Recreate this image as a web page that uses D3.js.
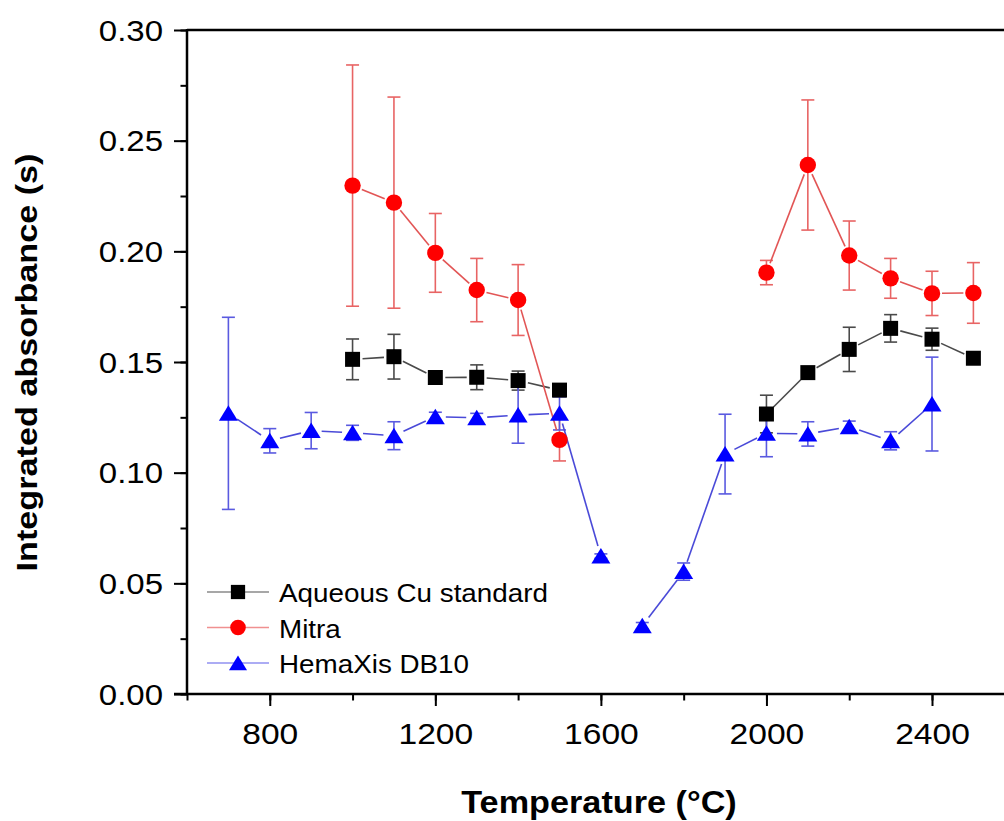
<!DOCTYPE html>
<html>
<head>
<meta charset="utf-8">
<script src="https://cdn.jsdelivr.net/npm/d3@7"></script>
<style>
  html, body { margin: 0; padding: 0; background: #fff; }
  svg { display: block; font-family: "Liberation Sans", Arial, sans-serif; }
</style>
</head>
<body>
<svg id="chart" width="1004" height="821"></svg>
<script>
// ---- data ----
const cuTemps = [1000, 1100, 1200, 1300, 1400, 1500, 2000, 2100, 2200, 2300, 2400, 2500];
const cuValues = [0.1512, 0.1524, 0.1430, 0.1431, 0.1416, 0.1373, 0.1265, 0.1452, 0.1557, 0.1652, 0.1603, 0.1517];
const cuErrors = [0.0092, 0.0101, 0.0030, 0.0056, 0.0043, 0, 0.0085, 0, 0.0100, 0.0062, 0.0050, 0];

const mitraTemps = [1000, 1100, 1200, 1300, 1400, 1500, 2000, 2100, 2200, 2300, 2400, 2500];
const mitraValues = [0.2297, 0.2220, 0.1993, 0.1825, 0.1780, 0.1148, 0.1904, 0.2390, 0.1981, 0.1878, 0.1810, 0.1812];
const mitraErrors = [0.0545, 0.0477, 0.0178, 0.0143, 0.0160, 0.0095, 0.0055, 0.0294, 0.0156, 0.0090, 0.0100, 0.0137];

const hemaTemps = [700, 800, 900, 1000, 1100, 1200, 1300, 1400, 1500, 1600, 1700, 1800, 1900, 2000, 2100, 2200, 2300, 2400];
const hemaValues = [0.1268, 0.1144, 0.1190, 0.1180, 0.1167, 0.1253, 0.1248, 0.1260, 0.1268, 0.0623, 0.0308, 0.0553, 0.1084, 0.1178, 0.1175, 0.1208, 0.1144, 0.1310];
const hemaErrors = [0.0434, 0.0055, 0.0082, 0.0034, 0.0063, 0.0020, 0.0020, 0.0127, 0.0075, 0.0010, 0.0015, 0.0039, 0.0180, 0.0106, 0.0055, 0.0025, 0.0041, 0.0212];
// temperatures after which the connecting line is interrupted
const cuBreaks = [1500];
const mitraBreaks = [1500];
const hemaBreaks = [1600];

const seriesNames = ["Aqueous Cu standard", "Mitra", "HemaXis DB10"];
const xTickValues = [800, 1200, 1600, 2000, 2400];
const yTickValues = [0.00, 0.05, 0.10, 0.15, 0.20, 0.25, 0.30];
const xTitle = "Temperature (°C)";
const yTitle = "Integrated absorbance (s)";

// ---- layout ----
const svg = d3.select("#chart");
const plotLeft = 187, plotTop = 30, plotBottom = 694;
const x = d3.scaleLinear().domain([600, 2400]).range([plotLeft, 932]);
const y = d3.scaleLinear().domain([0, 0.30]).range([plotBottom, plotTop]);
const xRight = x(2600);

function buildSeries(temps, vals, errs) {
  return temps.map((t, i) => ({ t, v: vals[i], e: errs[i] }));
}
const series = [
  { name: seriesNames[0], data: buildSeries(cuTemps, cuValues, cuErrors), breaks: cuBreaks, marker: "square",
    fill: "#000000", line: "#4a4a4a", err: "#4a4a4a", legendLine: "#8a8a8a" },
  { name: seriesNames[1], data: buildSeries(mitraTemps, mitraValues, mitraErrors), breaks: mitraBreaks, marker: "circle",
    fill: "#ff0000", line: "#e25555", err: "#e86464", legendLine: "#f09090" },
  { name: seriesNames[2], data: buildSeries(hemaTemps, hemaValues, hemaErrors), breaks: hemaBreaks, marker: "triangle",
    fill: "#0000ff", line: "#4a4ad8", err: "#5a5ae0", legendLine: "#9090f0" }
];

function markerPath(type) {
  if (type === "square") return "M-7.5,-7.5H7.5V7.5H-7.5Z";
  if (type === "triangle") return "M0,-8L9.5,7.5H-9.5Z";
  return d3.symbol(d3.symbolCircle, Math.PI * 8.2 * 8.2)();
}
const gapR = { square: 10, circle: 10, triangle: 10.5 };

// ---- axes ----
const gAxes = svg.append("g");
gAxes.append("line").attr("x1", plotLeft).attr("x2", xRight).attr("y1", plotTop).attr("y2", plotTop)
  .attr("stroke", "#000").attr("stroke-width", 2.5);

// x axis
const xMinor = gAxes.append("g").attr("transform", `translate(0,${plotBottom})`);
xMinor.call(d3.axisBottom(x).tickValues(d3.range(600, 2700, 200)).tickSize(6.5).tickFormat(""))
  .call(g => g.select(".domain").remove());
xMinor.selectAll(".tick line").attr("stroke", "#000").attr("stroke-width", 2);
const xMajor = gAxes.append("g").attr("transform", `translate(0,${plotBottom})`);
xMajor.call(d3.axisBottom(x).tickValues(xTickValues).tickSize(12).tickFormat(d3.format("d")))
  .call(g => g.select(".domain").remove());
xMajor.selectAll(".tick line").attr("stroke", "#000").attr("stroke-width", 2);
xMajor.selectAll(".tick text").attr("y", 50).attr("dy", 0)
  .attr("font-size", 30).attr("fill", "#000")
  .attr("font-family", "Liberation Sans, Arial, sans-serif")
  .attr("transform", "scale(1.12,1)");
gAxes.append("line").attr("x1", plotLeft - 13).attr("x2", xRight).attr("y1", plotBottom).attr("y2", plotBottom)
  .attr("stroke", "#000").attr("stroke-width", 2.5);

// y axis
const yMinor = gAxes.append("g").attr("transform", `translate(${plotLeft},0)`);
yMinor.call(d3.axisLeft(y).tickValues(d3.range(0, 0.30001, 0.025)).tickSize(6.5).tickFormat(""))
  .call(g => g.select(".domain").remove());
yMinor.selectAll(".tick line").attr("stroke", "#000").attr("stroke-width", 2);
const yMajor = gAxes.append("g").attr("transform", `translate(${plotLeft},0)`);
yMajor.call(d3.axisLeft(y).tickValues(yTickValues).tickSize(13).tickFormat(d3.format(".2f")))
  .call(g => g.select(".domain").remove());
yMajor.selectAll(".tick line").attr("stroke", "#000").attr("stroke-width", 2);
yMajor.selectAll(".tick text").attr("x", -24 / 1.1).attr("dy", "0.34em")
  .attr("font-size", 30).attr("fill", "#000")
  .attr("font-family", "Liberation Sans, Arial, sans-serif")
  .attr("transform", "scale(1.1,1)");
gAxes.append("line").attr("x1", plotLeft).attr("x2", plotLeft).attr("y1", plotTop - 1).attr("y2", plotBottom + 1)
  .attr("stroke", "#000").attr("stroke-width", 2.5);

// ---- error bars ----
const gErr = svg.append("g");
series.forEach(s => {
  s.data.filter(d => d.e > 0).forEach(d => {
    const cx = x(d.t), y1 = y(d.v + d.e), y2 = y(d.v - d.e);
    gErr.append("line").attr("x1", cx).attr("x2", cx).attr("y1", y1).attr("y2", y2)
      .attr("stroke", s.err).attr("stroke-width", 1.6);
    [y1, y2].forEach(yy => gErr.append("line").attr("x1", cx - 6.5).attr("x2", cx + 6.5)
      .attr("y1", yy).attr("y2", yy).attr("stroke", s.err).attr("stroke-width", 1.6));
  });
});

// ---- connecting lines (with gaps at markers) ----
const gLines = svg.append("g");
series.forEach(s => {
  const g = gapR[s.marker];
  for (let i = 0; i < s.data.length - 1; i++) {
    const a = s.data[i], b = s.data[i + 1];
    if (s.breaks.includes(a.t)) continue;
    const x1 = x(a.t), y1 = y(a.v), x2 = x(b.t), y2 = y(b.v);
    const len = Math.hypot(x2 - x1, y2 - y1);
    if (len <= 2 * g) continue;
    const ux = (x2 - x1) / len, uy = (y2 - y1) / len;
    gLines.append("line")
      .attr("x1", x1 + ux * g).attr("y1", y1 + uy * g)
      .attr("x2", x2 - ux * g).attr("y2", y2 - uy * g)
      .attr("stroke", s.line).attr("stroke-width", 1.6);
  }
});

// ---- markers ----
const gMarks = svg.append("g");
[series[2], series[1], series[0]].forEach(s => {
  gMarks.selectAll(null).data(s.data).join("path")
    .attr("d", markerPath(s.marker))
    .attr("transform", d => `translate(${x(d.t)},${y(d.v)})`)
    .attr("fill", s.fill);
});

// ---- legend ----
const gLeg = svg.append("g");
series.forEach((s, i) => {
  const cy = 592 + i * 35.5;
  gLeg.append("line").attr("x1", 207).attr("x2", 269).attr("y1", cy).attr("y2", cy)
    .attr("stroke", s.legendLine).attr("stroke-width", 1.3);
  gLeg.append("path").attr("d", markerPath(s.marker))
    .attr("transform", `translate(238,${cy}) scale(0.95)`).attr("fill", s.fill);
  gLeg.append("text").attr("transform", `translate(279,${cy + 10}) scale(1.07,1)`)
    .attr("font-size", 26).attr("fill", "#000").text(s.name);
});

// ---- titles ----
svg.append("text").attr("transform", `translate(599,813) scale(1.07,1)`)
  .attr("text-anchor", "middle").attr("font-size", 32).attr("font-weight", "bold")
  .attr("fill", "#000").text(xTitle);
svg.append("text").attr("transform", `translate(37,362.5) rotate(-90) scale(1.14,1)`)
  .attr("text-anchor", "middle").attr("font-size", 30).attr("font-weight", "bold")
  .attr("fill", "#000").text(yTitle);
</script>
</body>
</html>
